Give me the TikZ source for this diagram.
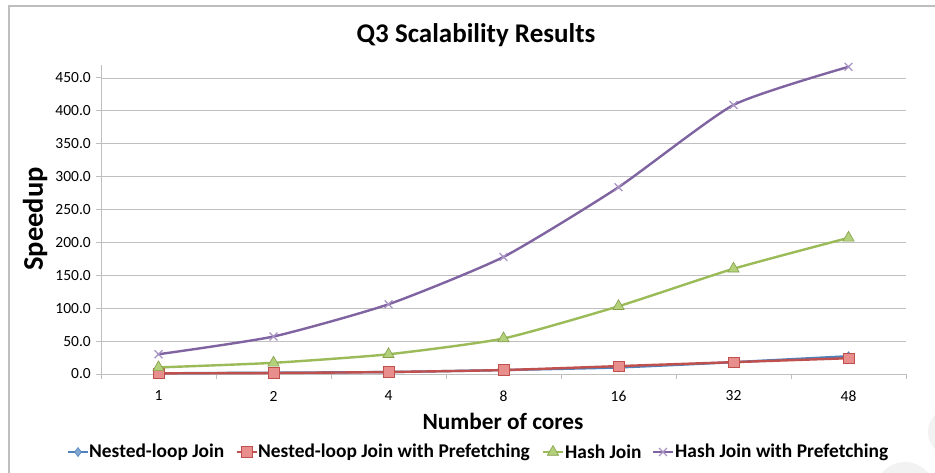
\documentclass[tikz,border=0pt]{standalone}
\usepackage{fontspec}
\setmainfont{Carlito}
\usetikzlibrary{plotmarks}

\definecolor{serBlue}{HTML}{4F81BD}
\definecolor{serRed}{HTML}{C0504D}
\definecolor{serRedFill}{HTML}{E88E8C}
\definecolor{serGreen}{HTML}{9BBB59}
\definecolor{serGreenFill}{HTML}{B3D07A}
\definecolor{serPurple}{HTML}{8064A2}
\definecolor{serPurpleMark}{HTML}{A893C4}
\definecolor{gridGray}{HTML}{BFBFBF}
\definecolor{frameGray}{HTML}{BEBEBE}
\definecolor{blobGray}{HTML}{F2F2F2}

\tikzset{
  gridline/.style={draw=gridGray, line width=0.9pt},
  axisline/.style={draw=gridGray, line width=1pt},
  ticklbl/.style={font=\fontsize{15.5}{18}\selectfont, inner sep=0pt},
  axistitle/.style={font=\bfseries\fontsize{23.3}{27}\selectfont, inner sep=0pt},
  legendlbl/.style={font=\bfseries\fontsize{19.4}{23}\selectfont, inner sep=0pt, anchor=west},
  seriesline/.style={line width=2.4pt, line join=round, line cap=round},
  curve/.style={smooth, tension=0.34},
  blueser/.style={seriesline, draw=serBlue},
  redser/.style={seriesline, draw=serRed},
  greenser/.style={seriesline, draw=serGreen},
  purpleser/.style={seriesline, draw=serPurple},
  bluemark/.style={mark=diamond*, mark size=4.5pt, mark options={fill=serBlue!70!white, draw=serBlue, line width=0.6pt}},
  redmark/.style={mark=square*, mark size=5.3pt, mark options={fill=serRedFill, draw=serRed, line width=0.6pt}},
  greenmark/.style={mark=triangle*, mark size=6.5pt, mark options={fill=serGreenFill, draw=serGreen!85!black, line width=0.6pt}},
  purplemark/.style={mark=x, mark size=5.5pt, mark options={draw=serPurpleMark, line width=1.2pt}},
}

\begin{document}
\begin{tikzpicture}[x=1pt, y=-1pt]
  \useasboundingbox[fill=white] (0,0) rectangle (935,473);

  % faint round shapes at the lower right corner
  \fill[blobGray] (952,432) circle (24);
  \fill[blobGray] (905,492) circle (30);

  % chart frame (continues past the page edge on the right and bottom)
  \draw[draw=frameGray, line width=1.2pt] (9,490) -- (9,6) -- (950,6);

  % title
  \node[font=\bfseries\fontsize{27}{32}\selectfont, inner sep=0pt] (title) at (476,35) {Q3 Scalability Results};

  % horizontal gridlines and value labels (0.65778 px per unit of speedup)
  \foreach \v in {50,100,...,450} {
    \draw[gridline] (101,{374-\v*0.65778}) -- (906,{374-\v*0.65778});
  }
  \foreach \v/\lbl in {0/0.0,50/50.0,100/100.0,150/150.0,200/200.0,250/250.0,300/300.0,350/350.0,400/400.0,450/450.0} {
    \draw[axisline] (96,{374-\v*0.65778}) -- (101,{374-\v*0.65778});
    \node[ticklbl, anchor=east] (ylab\v) at (91,{374-\v*0.65778}) {\lbl};
  }

  % axes
  \draw[axisline] (101,65) -- (101,374);
  \draw[axisline] (101,374) -- (906,374);
  \foreach \i in {0,...,7} {
    \draw[axisline] ({101+115*\i},374) -- ({101+115*\i},379);
  }
  \foreach \lbl [count=\i from 0] in {1,2,4,8,16,32,48} {
    \node[ticklbl] (xlab\i) at ({158.5+115*\i},396) {\lbl};
  }

  % axis titles
  \node[axistitle] (xtitle) at (503,421) {Number of cores};
  \node[axistitle, font=\bfseries\fontsize{28.5}{33}\selectfont, rotate=90] (ytitle) at (35,219) {Speedup};

  % data series, y in speedup units (page y runs downward)
  \begin{scope}[shift={(0,374)}, y={(0,0.65778pt)}]
    \draw[blueser] plot[curve] coordinates
      {(158.5,1) (273.5,2) (388.5,3) (503.5,6) (618.5,10) (733.5,18) (848.5,27)};
    \draw plot[only marks, bluemark] coordinates
      {(158.5,1) (273.5,2) (388.5,3) (503.5,6) (618.5,10) (733.5,18) (848.5,27)};

    \draw[redser] plot[curve] coordinates
      {(158.5,1) (273.5,1.5) (388.5,3) (503.5,6) (618.5,12) (733.5,18) (848.5,24)};
    \draw plot[only marks, redmark] coordinates
      {(158.5,1) (273.5,1.5) (388.5,3) (503.5,6) (618.5,12) (733.5,18) (848.5,24)};

    \draw[greenser] plot[curve] coordinates
      {(158.5,10) (273.5,17) (388.5,30) (503.5,54) (618.5,103) (733.5,160) (848.5,207)};
    \draw plot[only marks, greenmark] coordinates
      {(158.5,10) (273.5,17) (388.5,30) (503.5,54) (618.5,103) (733.5,160) (848.5,207)};

    \draw[purpleser] plot[curve] coordinates
      {(158.5,30) (273.5,57) (388.5,106) (503.5,178) (618.5,284) (733.5,409) (848.5,467)};
    \draw plot[only marks, purplemark] coordinates
      {(158.5,30) (273.5,57) (388.5,106) (503.5,178) (618.5,284) (733.5,409) (848.5,467)};
  \end{scope}

  % legend
  \coordinate (lgA0) at (68,452);  \coordinate (lgA1) at (88,452);
  \coordinate (lgB0) at (237,452); \coordinate (lgB1) at (257,452);
  \coordinate (lgC0) at (543,452); \coordinate (lgC1) at (563,452);
  \coordinate (lgD0) at (653,452); \coordinate (lgD1) at (673,452);

  \draw[blueser, line cap=butt] (lgA0) -- (lgA1);
  \draw plot[only marks, bluemark] coordinates {(78,452)};
  \node[legendlbl] (lgAt) at (89,452) {Nested-loop Join};

  \draw[redser, line cap=butt] (lgB0) -- (lgB1);
  \draw plot[only marks, redmark] coordinates {(247,452)};
  \node[legendlbl] (lgBt) at (258,452) {Nested-loop Join with Prefetching};

  \draw[greenser, line cap=butt] (lgC0) -- (lgC1);
  \draw plot[only marks, greenmark] coordinates {(553,452)};
  \node[legendlbl] (lgCt) at (565,452) {Hash Join};

  \draw[purpleser, line cap=butt] (lgD0) -- (lgD1);
  \draw plot[only marks, purplemark] coordinates {(663,452)};
  \node[legendlbl] (lgDt) at (675,452) {Hash Join with Prefetching};
\end{tikzpicture}
\end{document}
